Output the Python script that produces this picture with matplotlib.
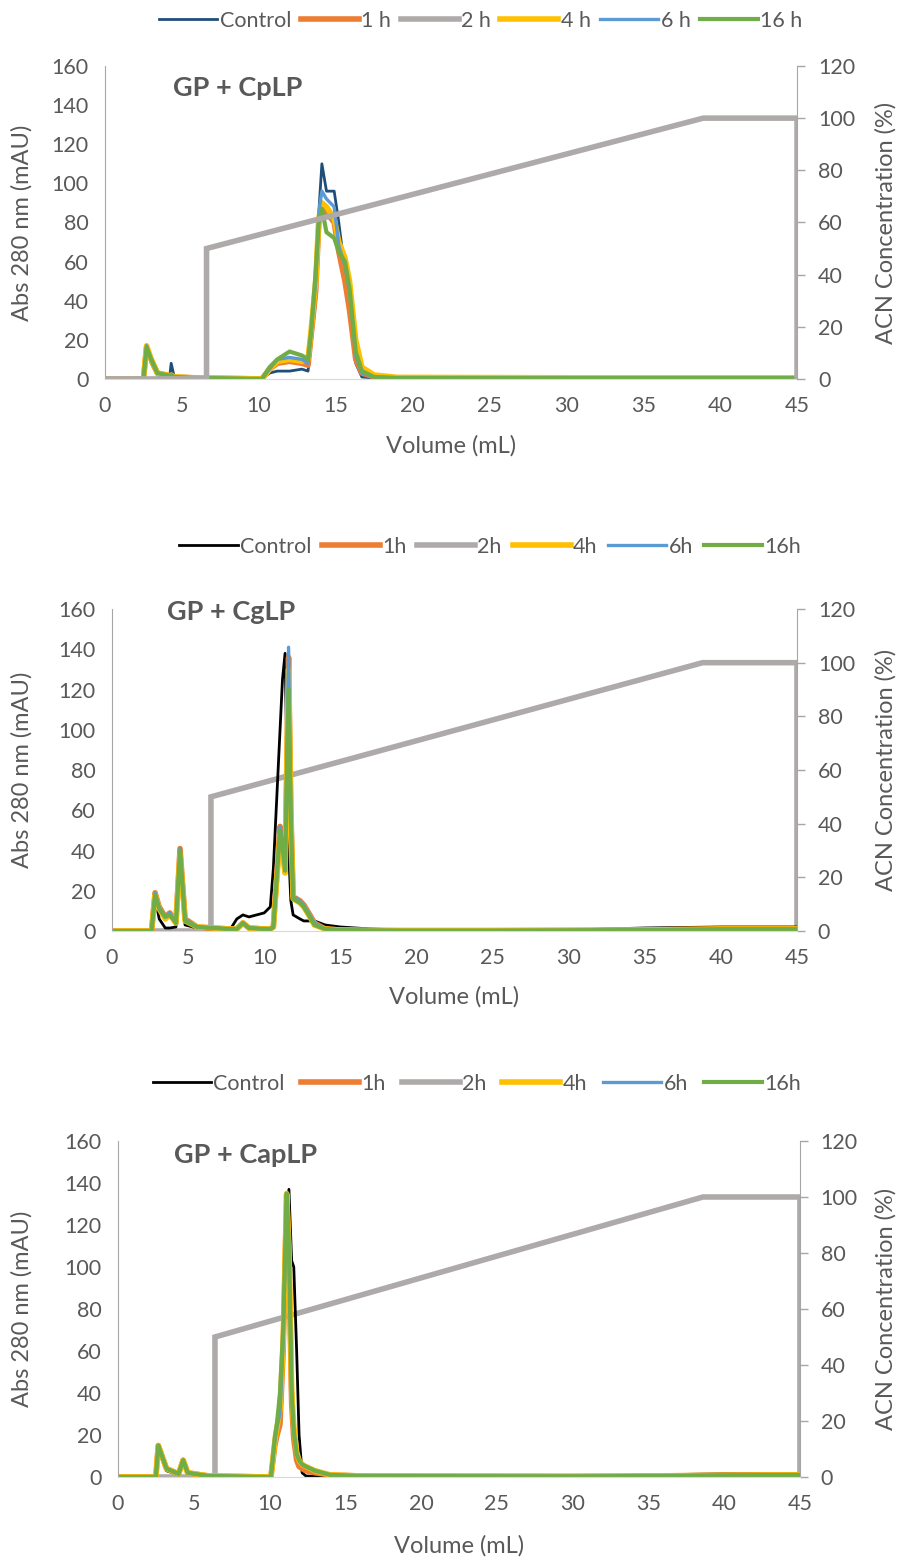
import matplotlib
matplotlib.use("Agg")
from matplotlib import pyplot as plt

plt.rcParams['font.family'] = ['Lato', 'DejaVu Sans']

# ---- data ----
labels_1 = ["Control", "1 h", "2 h", "4 h", "6 h", "16 h"]
labels_23 = ["Control", "1h", "2h", "4h", "6h", "16h"]

# panel 1: GP + CpLP
vol_1 = [0, 2.5, 2.7, 3.0, 3.4, 4.0, 4.2, 4.3, 4.5, 6.0, 10.2, 10.7, 11.2, 12.0,
         12.8, 13.2, 13.4, 13.7, 13.9, 14.1, 14.4, 14.9, 15.2, 15.6, 15.9, 16.3,
         16.7, 17.5, 19, 30, 45]
ctrl_1 = [0, 0, 17, 8, 2, 1, 1, 8, 1, 0, 0, 3, 4, 4, 5, 4, 18, 40, 85, 110, 96,
          96, 80, 55, 35, 8, 1, 0.5, 0.3, 0.2, 0.2]
h1_1 = [0, 0, 16, 10, 3, 2, 1.5, 1.5, 1, 0.5, 0, 5, 8, 9, 8, 7, 22, 45, 80, 88,
        85, 80, 65, 50, 35, 10, 3, 1, 0.5, 0.4, 0.4]
h4_1 = [0, 0, 17, 10, 3, 2, 1.5, 2, 1, 0.5, 0, 5, 9, 10, 9, 10, 25, 50, 82, 90,
        88, 82, 70, 62, 50, 20, 6, 2, 0.8, 0.6, 0.6]
h6_1 = [0, 0, 17, 10, 3, 2, 1.5, 2, 1, 0.5, 0, 5, 10, 11, 10, 8, 24, 50, 85, 96,
        92, 88, 68, 58, 45, 12, 3, 1, 0.5, 0.4, 0.4]
h16_1 = [0, 0, 16, 10, 3, 2, 1.5, 2, 1, 0.5, 0, 6, 10, 14, 12, 10, 24, 55, 80,
         87, 75, 72, 65, 60, 46, 14, 4, 1, 0.5, 0.4, 0.4]
grad_vol_1 = [0, 6.6, 6.6, 38.9, 45, 45]
grad_acn_1 = [0, 0, 50, 100, 100, 0]

# panel 2: GP + CgLP
vol_2 = [0, 2.6, 2.83, 3.1, 3.5, 3.8, 4.2, 4.47, 4.8, 5.6, 7.7, 8.2, 8.6, 9.0,
         10.0, 10.4, 10.6, 11.04, 11.2, 11.37, 11.6, 11.75, 11.9, 12.35, 12.6,
         13.0, 13.3, 14.0, 15.0, 17.0, 19.0, 20.0, 25.0, 30.0, 35.0, 40.0, 45.0]
ctrl_2 = [0, 0, 17, 6, 1.5, 1.5, 2, 38, 3, 1.5, 0, 6, 8, 7, 9, 12, 31, 100, 125,
          138, 40, 15, 8, 6, 5, 5, 5, 3, 2, 1, 0.5, 0.3, 0.2, 0.5, 1.5, 2, 2]
h1_2 = [0, 0, 19, 12, 7, 9, 4, 41, 6, 2, 1, 1, 4, 1.5, 1, 1, 2, 52, 45, 29, 136,
        60, 17, 15, 13, 8, 4, 1, 0.5, 0.3, 0.2, 0.2, 0.2, 0.3, 0.5, 1, 1]
h4_2 = [0, 0, 18, 11, 6, 8, 4, 38, 5, 2, 1, 1, 4, 1.5, 1, 1, 2, 48, 40, 29, 130,
        55, 16, 14, 12, 7, 3, 1, 0.5, 0.3, 0.2, 0.2, 0.2, 0.3, 0.5, 1, 1]
h6_2 = [0, 0, 19, 12, 7, 9, 4, 41, 6, 2, 1, 1, 4, 1.5, 1, 1, 2, 52, 45, 30, 141,
        60, 17, 15, 13, 8, 4, 1, 0.5, 0.3, 0.2, 0.2, 0.2, 0.3, 0.5, 1, 1]
h16_2 = [0, 0, 18, 11, 7, 8, 4, 40, 5, 2, 1, 1, 4, 1.5, 1, 1, 2, 50, 42, 30, 120,
         55, 16, 14, 12, 7, 3, 1, 0.5, 0.3, 0.2, 0.2, 0.2, 0.3, 0.5, 0.8, 0.8]
grad_vol_2 = [0, 6.5, 6.5, 38.8, 45, 45]
grad_acn_2 = [0, 0, 50, 100, 100, 0]

# panel 3: GP + CapLP
vol_3 = [0, 2.5, 2.66, 3.2, 4.0, 4.3, 4.6, 5.5, 6.0, 10.0, 10.1, 10.35, 10.5,
         10.69, 10.9, 11.13, 11.28, 11.46, 11.6, 11.79, 11.95, 12.15, 12.4, 13.0,
         14.0, 16.0, 30.0, 35.0, 40.0, 45.0]
ctrl_3 = [0, 0, 14, 3, 1, 7, 1.5, 1, 0.5, 0, 0, 12, 20, 30, 60, 120, 137, 103,
          100, 60, 20, 2, 0.5, 0.3, 0.3, 0.5, 0.3, 1, 1.5, 1.5]
h1_3 = [0, 0, 15, 4, 1.5, 8, 2, 1, 0.5, 0, 0.5, 15, 20, 25, 60, 134, 105, 35,
        18, 8, 5, 4, 3, 2, 1, 0.5, 0.3, 0.5, 0.8, 1]
h4_3 = [0, 0, 15, 4, 1.5, 8, 2, 1, 0.5, 0, 0.5, 17, 24, 32, 65, 135, 110, 42,
        24, 12, 8, 6, 5, 3, 1, 0.5, 0.3, 0.5, 0.8, 1]
h6_3 = [0, 0, 15, 4, 1.5, 8, 2, 1, 0.5, 0, 0.5, 17, 24, 30, 64, 134, 108, 40,
        22, 11, 8, 6, 5, 3, 1, 0.5, 0.3, 0.5, 0.8, 1]
h16_3 = [0, 0, 15, 4, 1.5, 8, 2, 1, 0.5, 0, 0.5, 19, 26, 40, 70, 135, 110, 40,
         22, 11, 8, 6, 5, 3, 1, 0.5, 0.3, 0.5, 0.8, 1]
grad_vol_3 = [0, 6.4, 6.4, 38.6, 45, 45]
grad_acn_3 = [0, 0, 50, 100, 100, 0]

titles = ["GP + CpLP", "GP + CgLP", "GP + CapLP"]

txt = "#595959"
grad_color = "#AEAAAA"

fig = plt.figure(figsize=(9.04, 15.6), dpi=100)

panels = [
    dict(rect=[0.1162, 0.7571, 0.7655, 0.2006], vol=vol_1,
         series=[ctrl_1, h1_1, h4_1, h6_1, h16_1], ctrl_color="#1F4E79",
         gv=grad_vol_1, ga=grad_acn_1, labels=labels_1, title=titles[0],
         title_xy=(0.098, 0.93), leg_y=1 - 21 / 1560, leg_x=481 / 904,
         xl_y=1 - 446 / 1560, grad_front=True),
    dict(rect=[0.1239, 0.4032, 0.7577, 0.2064], vol=vol_2,
         series=[ctrl_2, h1_2, h4_2, h6_2, h16_2], ctrl_color="black",
         gv=grad_vol_2, ga=grad_acn_2, labels=labels_23, title=titles[1],
         title_xy=(0.08, 0.99), leg_y=1 - 547 / 1560, leg_x=490 / 904,
         xl_y=1 - 997 / 1560, grad_front=False),
    dict(rect=[0.1305, 0.0532, 0.7544, 0.2154], vol=vol_3,
         series=[ctrl_3, h1_3, h4_3, h6_3, h16_3], ctrl_color="black",
         gv=grad_vol_3, ga=grad_acn_3, labels=labels_23, title=titles[2],
         title_xy=(0.082, 0.958), leg_y=1 - 1084 / 1560, leg_x=477 / 904,
         xl_y=1 - 1546 / 1560, grad_front=False),
]

colors = [None, "#ED7D31", "#FFC000", "#5B9BD5", "#70AD47"]
widths = [2.0, 4.0, 4.0, 2.4, 3.0]
leg_spacing = [0.45, 0.5, 0.75]

for k, p in enumerate(panels):
    ax = fig.add_axes(p["rect"])
    ax2 = ax.twinx()
    handles = []
    for i, s in enumerate(p["series"]):
        c = p["ctrl_color"] if i == 0 else colors[i]
        ln, = ax.plot(p["vol"], s, color=c, lw=widths[i],
                      solid_joinstyle="round")
        handles.append(ln)
    gl, = ax2.plot(p["gv"], p["ga"], color=grad_color, lw=4.0,
                   solid_joinstyle="miter")
    handles.insert(2, gl)
    if not p["grad_front"]:
        ax.set_zorder(ax2.get_zorder() + 1)
        ax.patch.set_visible(False)

    ax.set_xlim(0, 45)
    ax.set_ylim(0, 160)
    ax2.set_ylim(0, 120)
    ax.set_xticks(range(0, 46, 5))
    ax.set_yticks(range(0, 161, 20))
    ax2.set_yticks(range(0, 121, 20))

    for a in (ax, ax2):
        for sp in a.spines.values():
            sp.set_visible(False)
    ax.spines["left"].set_visible(True)
    ax.spines["left"].set_color("#A6A6A6")
    ax.spines["bottom"].set_visible(True)
    ax.spines["bottom"].set_color("#D9D9D9")
    ax2.spines["right"].set_visible(True)
    ax2.spines["right"].set_color("#A6A6A6")

    ax.tick_params(axis="both", length=0, labelsize=15.5, colors=txt, pad=12)
    ax2.tick_params(axis="y", length=6, width=1, color="#A6A6A6",
                    labelsize=15.5, labelcolor=txt, pad=9)

    ax.text(p["title_xy"][0], p["title_xy"][1], p["title"],
            transform=ax.transAxes, fontsize=19.5, fontweight="bold",
            color=txt, va="center", ha="left")

    r = p["rect"]
    ymid = r[1] + r[3] / 2
    fig.text(22 / 904, ymid, "Abs 280 nm (mAU)", rotation=90, fontsize=17,
             color=txt, ha="center", va="center")
    fig.text(886 / 904, ymid, "ACN Concentration (%)", rotation=90,
             fontsize=17, color=txt, ha="center", va="center")
    fig.text(r[0] + r[2] / 2, p["xl_y"], "Volume (mL)", fontsize=17,
             color=txt, ha="center", va="center")

    leg = fig.legend(handles, p["labels"], loc="center",
                     bbox_to_anchor=(p["leg_x"], p["leg_y"]), ncol=6,
                     frameon=False, fontsize=15.5, handlelength=2.7,
                     handletextpad=0.1, columnspacing=leg_spacing[k])
    for t in leg.get_texts():
        t.set_color(txt)

fig.savefig("out.png", dpi=100)
